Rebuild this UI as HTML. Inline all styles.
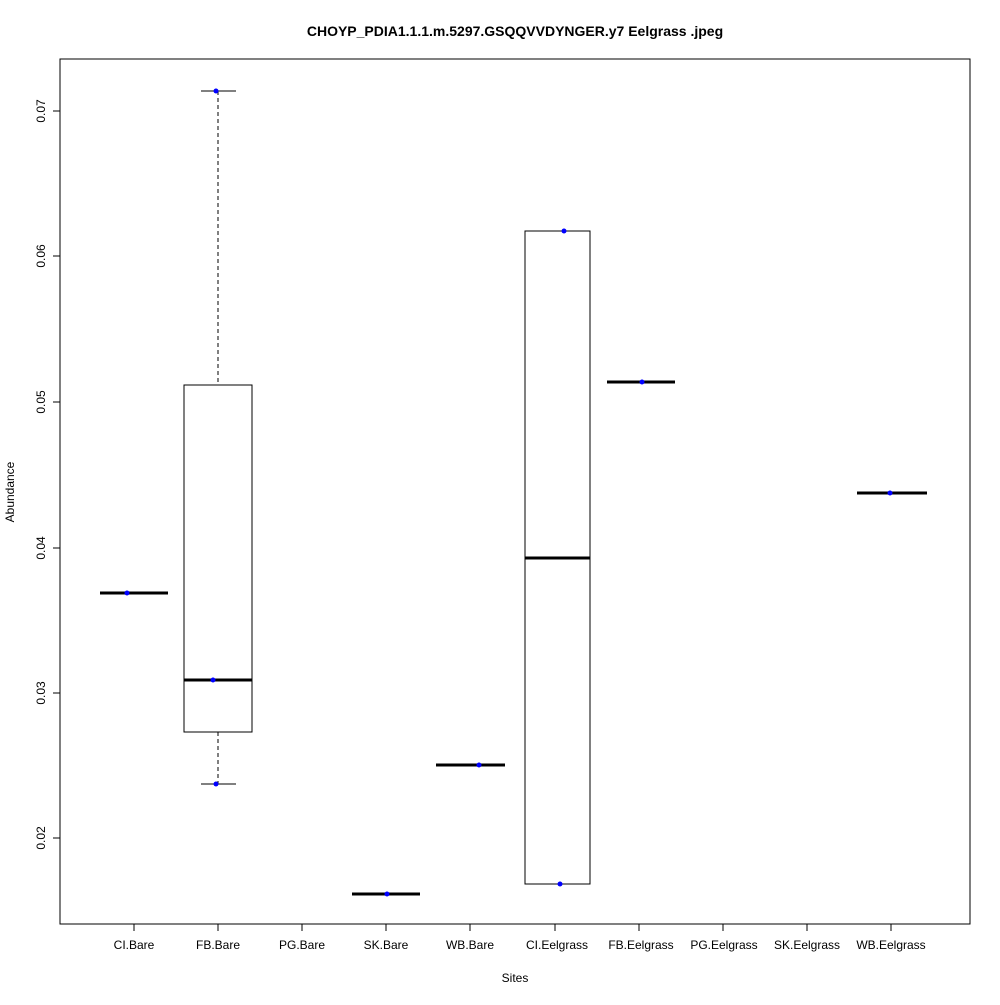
<!DOCTYPE html>
<html><head><style>body{margin:0;background:#fff}</style></head><body>
<svg width="1000" height="1000" xmlns="http://www.w3.org/2000/svg" font-family="Liberation Sans, Arial, sans-serif">
<rect width="1000" height="1000" fill="#fff"/>
<text x="515" y="36" font-size="14" font-weight="bold" text-anchor="middle">CHOYP_PDIA1.1.1.m.5297.GSQQVVDYNGER.y7 Eelgrass .jpeg</text>
<rect x="60" y="59" width="910" height="865" fill="none" stroke="#000"/>
<g stroke="#000">
<line x1="60" y1="111" x2="60" y2="838"/>
<line x1="53" y1="838" x2="60" y2="838"/><line x1="53" y1="693" x2="60" y2="693"/><line x1="53" y1="548" x2="60" y2="548"/><line x1="53" y1="402" x2="60" y2="402"/><line x1="53" y1="256" x2="60" y2="256"/><line x1="53" y1="111" x2="60" y2="111"/>
<line x1="134" y1="924" x2="891" y2="924"/>
<line x1="134" y1="924" x2="134" y2="931"/><line x1="218" y1="924" x2="218" y2="931"/><line x1="302" y1="924" x2="302" y2="931"/><line x1="386" y1="924" x2="386" y2="931"/><line x1="470" y1="924" x2="470" y2="931"/><line x1="555" y1="924" x2="555" y2="931"/><line x1="639" y1="924" x2="639" y2="931"/><line x1="723" y1="924" x2="723" y2="931"/><line x1="807" y1="924" x2="807" y2="931"/><line x1="891" y1="924" x2="891" y2="931"/>
</g>
<g font-size="12" text-anchor="middle">
<text transform="translate(45,838) rotate(-90)">0.02</text>
<text transform="translate(45,693) rotate(-90)">0.03</text>
<text transform="translate(45,548) rotate(-90)">0.04</text>
<text transform="translate(45,402) rotate(-90)">0.05</text>
<text transform="translate(45,256) rotate(-90)">0.06</text>
<text transform="translate(45,111) rotate(-90)">0.07</text>
<text x="134" y="949">CI.Bare</text><text x="218" y="949">FB.Bare</text><text x="302" y="949">PG.Bare</text><text x="386" y="949">SK.Bare</text><text x="470" y="949">WB.Bare</text><text x="557" y="949">CI.Eelgrass</text><text x="641" y="949">FB.Eelgrass</text><text x="724" y="949">PG.Eelgrass</text><text x="807" y="949">SK.Eelgrass</text><text x="891" y="949">WB.Eelgrass</text>
<text x="515" y="982">Sites</text>
<text transform="translate(14,492) rotate(-90)">Abundance</text>
</g>
<g stroke="#000" fill="none">
<line x1="100" y1="593" x2="168" y2="593" stroke-width="3"/>
<line x1="218" y1="91" x2="218" y2="385" stroke-dasharray="4,3"/>
<line x1="218" y1="732" x2="218" y2="784" stroke-dasharray="4,3"/>
<line x1="201" y1="91" x2="236" y2="91"/><line x1="201" y1="784" x2="236" y2="784"/>
<rect x="184" y="385" width="68" height="347"/>
<line x1="184" y1="680" x2="252" y2="680" stroke-width="3"/>
<line x1="352" y1="894" x2="420" y2="894" stroke-width="3"/>
<line x1="436" y1="765" x2="505" y2="765" stroke-width="3"/>
<rect x="525" y="231" width="65" height="653"/>
<line x1="525" y1="558" x2="590" y2="558" stroke-width="3"/>
<line x1="607" y1="382" x2="675" y2="382" stroke-width="3"/>
<line x1="857" y1="493" x2="927" y2="493" stroke-width="3"/>
</g>
<g fill="#00f">
<circle cx="127" cy="593" r="2.5"/><circle cx="216" cy="91" r="2.5"/><circle cx="213" cy="680" r="2.5"/><circle cx="216" cy="784" r="2.5"/><circle cx="387" cy="894" r="2.5"/><circle cx="479" cy="765" r="2.5"/><circle cx="564" cy="231" r="2.5"/><circle cx="560" cy="884" r="2.5"/><circle cx="642" cy="382" r="2.5"/><circle cx="890" cy="493" r="2.5"/>
</g>
</svg>
</body></html>
